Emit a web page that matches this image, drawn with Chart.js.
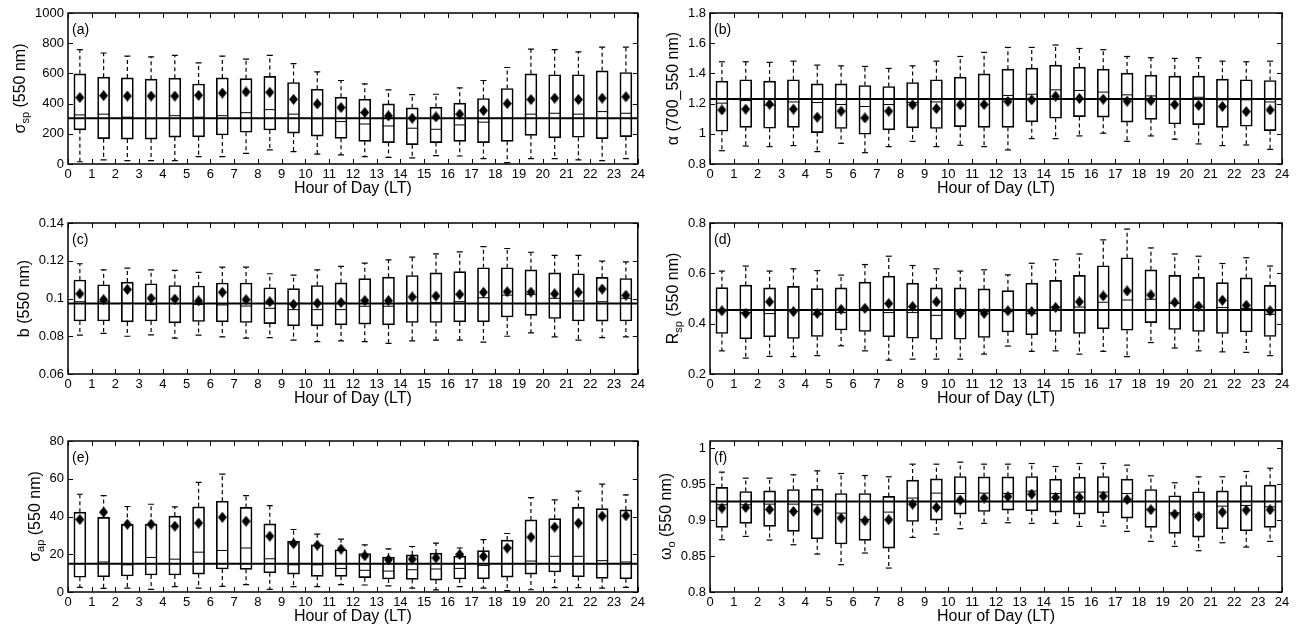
<!DOCTYPE html>
<html lang="en">
<head>
<meta charset="UTF-8" />
<title>Diurnal box plots</title>
<script src="https://cdn.jsdelivr.net/npm/chart.js@4.4.0/dist/chart.umd.min.js"></script>
<style>
  body { margin: 0; background: #fff; width: 1297px; height: 631px; overflow: hidden; position: relative; }
  .panel { position: absolute; }
</style>
</head>
<body>
<div class="panel" style="left:0;top:0;width:648px;height:210px"><canvas id="pa"></canvas></div>
<div class="panel" style="left:648px;top:0;width:649px;height:210px"><canvas id="pb"></canvas></div>
<div class="panel" style="left:0;top:210px;width:648px;height:210px"><canvas id="pc"></canvas></div>
<div class="panel" style="left:648px;top:210px;width:649px;height:210px"><canvas id="pd"></canvas></div>
<div class="panel" style="left:0;top:421px;width:648px;height:210px"><canvas id="pe"></canvas></div>
<div class="panel" style="left:648px;top:421px;width:649px;height:210px"><canvas id="pf"></canvas></div>

<script>
  // hour bins (box centres)
  const hours = [0.5,1.5,2.5,3.5,4.5,5.5,6.5,7.5,8.5,9.5,10.5,11.5,12.5,13.5,14.5,15.5,16.5,17.5,18.5,19.5,20.5,21.5,22.5,23.5];
  const xTickLabels = [0,1,2,3,4,5,6,7,8,9,10,11,12,13,14,15,16,17,18,19,20,21,22,23,24];

  // (a) sigma_sp
  const a_hi  = [757,735,715,710,720,670,715,695,720,665,610,553,531,491,460,462,504,553,639,761,757,743,774,774];
  const a_q3  = [597,575,570,562,568,530,570,565,580,540,495,442,429,398,372,376,403,434,500,597,591,591,617,606];
  const a_med = [325,330,310,300,320,310,320,340,360,330,300,281,265,252,237,230,259,277,303,330,336,330,347,336];
  const a_q1  = [226,168,165,165,178,180,192,210,225,205,185,170,150,142,128,142,150,142,150,190,173,177,168,181];
  const a_lo  = [15,27,22,22,22,49,49,71,93,82,66,60,49,44,40,55,53,35,9,35,35,27,22,35];
  const a_mean= [440,453,450,450,450,455,470,478,475,428,398,374,341,319,303,312,330,354,400,427,436,427,436,445];
  const a_ref = 303;
  const a_ticks = [0,200,400,600,800,1000];

  // (b) alpha
  const b_hi  = [1.477,1.477,1.473,1.481,1.455,1.450,1.446,1.433,1.450,1.481,1.512,1.539,1.572,1.572,1.588,1.565,1.557,1.512,1.504,1.499,1.504,1.481,1.477,1.481];
  const b_q3  = [1.349,1.358,1.349,1.358,1.331,1.331,1.320,1.313,1.340,1.358,1.375,1.397,1.428,1.435,1.455,1.442,1.428,1.402,1.388,1.382,1.382,1.362,1.358,1.353];
  const b_med = [1.203,1.220,1.189,1.211,1.207,1.194,1.181,1.194,1.207,1.211,1.234,1.234,1.254,1.262,1.291,1.287,1.276,1.258,1.251,1.234,1.242,1.225,1.225,1.211];
  const b_q1  = [1.017,1.043,1.037,1.043,1.008,1.035,0.997,1.026,1.039,1.035,1.048,1.043,1.043,1.079,1.103,1.114,1.110,1.077,1.096,1.065,1.061,1.043,1.050,1.021];
  const b_lo  = [0.888,0.919,0.915,0.922,0.882,0.937,0.875,0.915,0.950,0.915,0.924,0.915,0.893,0.968,0.968,0.986,1.004,0.950,0.986,0.964,0.933,0.922,0.926,0.897];
  const b_mean= [1.158,1.163,1.196,1.163,1.110,1.150,1.105,1.150,1.192,1.167,1.192,1.194,1.214,1.225,1.249,1.234,1.229,1.216,1.220,1.194,1.189,1.181,1.147,1.158];
  const b_ref = 1.231;
  const b_ticks = [0.8,1,1.2,1.4,1.6,1.8];

  // (c) b
  const c_hi  = [0.1184,0.1152,0.1161,0.1152,0.1149,0.1138,0.1166,0.1166,0.1131,0.1124,0.1152,0.1170,0.1187,0.1205,0.1219,0.1236,0.1247,0.1275,0.1265,0.1245,0.1229,0.1229,0.1198,0.1194];
  const c_q3  = [0.1098,0.1073,0.1087,0.1078,0.1069,0.1066,0.1082,0.1082,0.1057,0.1052,0.1069,0.1083,0.1105,0.1113,0.1122,0.1136,0.1142,0.1163,0.1163,0.1152,0.1136,0.1131,0.1112,0.1106];
  const c_med = [0.0983,0.0983,0.0975,0.0969,0.0973,0.0969,0.0966,0.0960,0.0948,0.0941,0.0941,0.0941,0.0959,0.0959,0.0975,0.0978,0.0983,0.1004,0.1018,0.1022,0.1001,0.0987,0.0983,0.1001];
  const c_q1  = [0.0881,0.0881,0.0876,0.0881,0.0871,0.0878,0.0876,0.0873,0.0867,0.0855,0.0855,0.0860,0.0864,0.0860,0.0873,0.0873,0.0876,0.0876,0.0902,0.0911,0.0894,0.0881,0.0880,0.0881];
  const c_lo  = [0.0806,0.0815,0.0800,0.0807,0.0790,0.0806,0.0797,0.0790,0.0793,0.0779,0.0772,0.0776,0.0772,0.0762,0.0776,0.0779,0.0779,0.0769,0.0800,0.0818,0.0797,0.0779,0.0793,0.0797];
  const c_mean= [0.1025,0.0994,0.1048,0.1001,0.0997,0.0987,0.1033,0.0994,0.0983,0.0969,0.0975,0.0979,0.0989,0.0989,0.1008,0.1013,0.1022,0.1033,0.1036,0.1034,0.1025,0.1033,0.1050,0.1017];
  const c_ref = 0.0973;
  const c_ticks = [0.06,0.08,0.1,0.12,0.14];

  // (d) R_sp
  const d_hi  = [0.609,0.629,0.609,0.618,0.611,0.593,0.635,0.668,0.631,0.618,0.609,0.614,0.594,0.640,0.654,0.677,0.733,0.776,0.701,0.677,0.668,0.639,0.662,0.629];
  const d_q3  = [0.543,0.553,0.542,0.548,0.539,0.542,0.565,0.589,0.561,0.542,0.542,0.538,0.531,0.561,0.572,0.592,0.630,0.662,0.614,0.592,0.584,0.563,0.582,0.552];
  const d_med = [0.451,0.444,0.440,0.453,0.437,0.444,0.453,0.444,0.444,0.433,0.448,0.448,0.448,0.440,0.466,0.466,0.485,0.494,0.497,0.480,0.466,0.464,0.460,0.437];
  const d_q1  = [0.361,0.340,0.348,0.341,0.349,0.375,0.369,0.348,0.342,0.338,0.338,0.345,0.367,0.356,0.369,0.361,0.379,0.374,0.404,0.377,0.369,0.361,0.367,0.349];
  const d_lo  = [0.292,0.263,0.270,0.269,0.273,0.312,0.292,0.255,0.259,0.259,0.259,0.279,0.311,0.290,0.292,0.279,0.290,0.269,0.325,0.303,0.292,0.288,0.286,0.273];
  const d_mean= [0.451,0.441,0.487,0.448,0.441,0.457,0.461,0.480,0.468,0.487,0.441,0.441,0.451,0.448,0.464,0.487,0.510,0.530,0.514,0.485,0.470,0.493,0.473,0.451];
  const d_ref = 0.4545;
  const d_ticks = [0.2,0.4,0.6,0.8];

  // (e) sigma_ap
  const e_hi  = [51.8,51.1,45.3,46.5,45.1,58.1,62.4,51.1,45.8,33.1,30.7,28.0,25.0,22.9,24.1,25.9,23.3,27.8,31.0,50.0,48.8,53.4,57.1,51.5];
  const e_q3  = [42.3,39.5,35.8,35.9,40.2,45.1,48.1,44.8,36.1,26.8,25.0,22.4,20.4,18.5,19.7,20.6,19.0,21.9,27.5,38.2,38.9,44.8,44.2,43.5];
  const e_med = [15.0,15.9,14.4,18.3,17.4,21.1,22.0,23.3,17.6,14.4,14.4,12.5,11.5,11.1,11.8,12.2,12.5,14.1,15.0,16.4,18.9,18.9,16.6,15.9];
  const e_q1  = [7.8,8.1,8.5,9.0,9.0,9.5,12.2,12.0,10.2,9.5,8.3,8.3,7.6,6.9,6.7,6.3,6.9,7.0,7.9,9.5,10.6,8.1,7.2,7.0];
  const e_lo  = [2.5,1.9,2.1,1.4,2.8,2.1,3.0,3.9,1.4,2.8,2.8,3.9,3.7,3.2,2.1,1.1,2.8,2.1,0.7,1.2,2.3,2.3,2.1,2.5];
  const e_mean= [38.4,42.3,35.9,35.9,34.9,36.5,39.6,37.5,29.6,25.6,24.8,22.7,19.2,17.1,17.4,18.1,19.9,18.9,23.3,29.1,34.4,36.5,40.2,40.4];
  const e_ref = 15;
  const e_ticks = [0,20,40,60,80];

  // (f) omega_o
  const f_hi  = [0.9667,0.9583,0.9583,0.9630,0.9685,0.9648,0.9620,0.9602,0.9778,0.9778,0.9806,0.9778,0.9778,0.9787,0.9745,0.9787,0.9787,0.9764,0.9616,0.9519,0.9602,0.9602,0.9676,0.9722];
  const f_q3  = [0.9454,0.9398,0.9407,0.9426,0.9431,0.9370,0.9370,0.9329,0.9556,0.9574,0.9606,0.9602,0.9602,0.9606,0.9569,0.9597,0.9606,0.9569,0.9426,0.9338,0.9394,0.9407,0.9481,0.9486];
  const f_med = [0.9213,0.9213,0.9222,0.9222,0.9213,0.9097,0.9009,0.9111,0.9306,0.9375,0.9370,0.9375,0.9370,0.9403,0.9370,0.9389,0.9389,0.9370,0.9148,0.9102,0.9083,0.9194,0.9204,0.9185];
  const f_q1  = [0.8898,0.8954,0.8912,0.8843,0.8741,0.8667,0.8718,0.8611,0.8981,0.9000,0.9083,0.9120,0.9139,0.9130,0.9111,0.9083,0.9102,0.9028,0.8898,0.8815,0.8764,0.8880,0.8852,0.8898];
  const f_lo  = [0.8727,0.8773,0.8722,0.8657,0.8528,0.8380,0.8542,0.8333,0.8759,0.8806,0.8880,0.8954,0.8963,0.8954,0.8954,0.8912,0.8917,0.8843,0.8704,0.8634,0.8574,0.8685,0.8625,0.8704];
  const f_mean= [0.9167,0.9176,0.9148,0.9120,0.9130,0.9028,0.8991,0.9005,0.9222,0.9176,0.9278,0.9306,0.9329,0.9361,0.9315,0.9315,0.9333,0.9287,0.9144,0.9083,0.9051,0.9111,0.9139,0.9144];
  const f_ref = 0.9259;
  const f_ticks = [0.8,0.85,0.9,0.95,1];

  const FONT = '"Liberation Sans", Arial, Helvetica, sans-serif';

  // filled diamond used for the means
  function diamondMark() {
    const c = document.createElement('canvas');
    c.width = 9; c.height = 11;
    const g = c.getContext('2d');
    g.fillStyle = '#000';
    g.beginPath();
    g.moveTo(4.5, 0); g.lineTo(9, 5.5); g.lineTo(4.5, 11); g.lineTo(0, 5.5);
    g.closePath();
    g.fill();
    return c;
  }
  const diamond = diamondMark();

  // frame, inward ticks, panel letter and y title (with subscript)
  const framePlugin = {
    id: 'frame',
    afterDatasetsDraw(chart, args, o) {
      const { ctx, chartArea: a, scales: { x, y } } = chart;
      ctx.save();
      ctx.strokeStyle = '#000';
      ctx.lineWidth = 1;
      ctx.beginPath();
      x.ticks.forEach(t => {
        const px = Math.round(x.getPixelForValue(t.value)) + 0.5;
        ctx.moveTo(px, a.bottom); ctx.lineTo(px, a.bottom - 5);
        ctx.moveTo(px, a.top); ctx.lineTo(px, a.top + 5);
      });
      y.ticks.forEach(t => {
        const py = Math.round(y.getPixelForValue(t.value)) + 0.5;
        ctx.moveTo(a.left, py); ctx.lineTo(a.left + 5, py);
        ctx.moveTo(a.right, py); ctx.lineTo(a.right - 5, py);
      });
      ctx.stroke();
      ctx.lineWidth = 1.5;
      ctx.strokeRect(a.left, a.top, a.right - a.left, a.bottom - a.top);

      ctx.fillStyle = '#000';
      ctx.font = '14px ' + FONT;
      ctx.textAlign = 'left';
      ctx.textBaseline = 'top';
      ctx.fillText(o.letter, a.left + 4, a.top + 10);

      // y title placed left of the widest tick label
      ctx.font = '13px ' + FONT;
      const w = Math.max(...y.ticks.map(t => ctx.measureText(t.label).width));
      const bx = a.left - 4 - w - 10;
      const widths = o.title.map(p => {
        ctx.font = (p.sub ? '11px ' : '16px ') + FONT;
        return ctx.measureText(p.t).width;
      });
      const total = widths.reduce((s, v) => s + v, 0);
      ctx.translate(bx, (a.top + a.bottom) / 2);
      ctx.rotate(-Math.PI / 2);
      ctx.textBaseline = 'alphabetic';
      let lx = -total / 2;
      o.title.forEach((p, i) => {
        ctx.font = (p.sub ? '11px ' : '16px ') + FONT;
        ctx.fillText(p.t, lx, p.sub ? 4 : 0);
        lx += widths[i];
      });
      ctx.restore();
    }
  };

  function makePanel(id, p) {
    const pts = arr => hours.map((h, i) => ({ x: h, y: arr[i] }));
    const whisk = [];
    const caps = [];
    hours.forEach((h, i) => {
      whisk.push({ x: h, y: p.q3[i] }, { x: h, y: p.hi[i] }, { x: h, y: null },
                 { x: h, y: p.q1[i] }, { x: h, y: p.lo[i] }, { x: h, y: null });
      caps.push({ x: h, y: p.hi[i] }, { x: h, y: p.lo[i] });
    });

    new Chart(document.getElementById(id), {
      type: 'bar',
      data: {
        datasets: [
          { type: 'scatter', data: pts(p.mean), pointStyle: diamond, pointRadius: 5, order: 0 },
          { type: 'line', data: [{ x: 0, y: p.ref }, { x: 24, y: p.ref }], borderColor: '#000',
            borderWidth: 2, pointRadius: 0, order: 1 },
          { type: 'scatter', data: pts(p.med), pointStyle: 'line', pointRadius: 6,
            borderColor: '#000', borderWidth: 1, order: 2 },
          { type: 'bar', data: hours.map((h, i) => ({ x: h, y: [p.q1[i], p.q3[i]] })),
            borderColor: '#000', borderWidth: 1, backgroundColor: 'rgba(0,0,0,0)',
            borderSkipped: false, barThickness: 12, order: 3 },
          { type: 'line', data: whisk, borderColor: '#000', borderWidth: 1.2, borderDash: [4, 3],
            pointRadius: 0, spanGaps: false, order: 4 },
          { type: 'scatter', data: caps, pointStyle: 'line', pointRadius: 3,
            borderColor: '#000', borderWidth: 1.2, order: 4 }
        ]
      },
      options: {
        responsive: true,
        maintainAspectRatio: false,
        animation: false,
        events: [],
        layout: { padding: { top: p.padTop, bottom: p.padBottom, left: 0, right: p.padRight } },
        plugins: {
          legend: { display: false },
          tooltip: { enabled: false },
          frame: { letter: p.letter, title: p.title }
        },
        scales: {
          x: {
            type: 'linear', min: 0, max: 24, offset: false,
            grid: { display: false, drawTicks: false }, border: { display: false },
            afterBuildTicks: s => { s.ticks = xTickLabels.map(v => ({ value: v })); },
            ticks: { autoSkip: false, maxRotation: 0, padding: 3, color: '#000', font: { size: 13, family: FONT } },
            title: { display: true, text: 'Hour of Day (LT)', color: '#000',
                     font: { size: 16, family: FONT }, padding: { top: 0, bottom: 2 } },
            afterFit: s => { s.height = 36; }
          },
          y: {
            type: 'linear', min: p.min, max: p.max,
            grid: { display: false, drawTicks: false }, border: { display: false },
            afterBuildTicks: s => { s.ticks = p.ticks.map(v => ({ value: v })); },
            ticks: { padding: 4, color: '#000', font: { size: 13, family: FONT },
                     callback: v => String(+Number(v).toFixed(4)) },
            afterFit: s => { s.width = p.yWidth; }
          }
        }
      },
      plugins: [framePlugin]
    });
  }

  const LEFT = { yWidth: 68, padRight: 9 };
  const RIGHT = { yWidth: 62, padRight: 15 };

  makePanel('pa', { ...LEFT, padTop: 13, padBottom: 10, min: 0, max: 1000, ticks: a_ticks,
    hi: a_hi, q3: a_q3, med: a_med, q1: a_q1, lo: a_lo, mean: a_mean, ref: a_ref, letter: '(a)',
    title: [{ t: 'σ' }, { t: 'sp', sub: true }, { t: ' (550 nm)' }] });
  makePanel('pb', { ...RIGHT, padTop: 13, padBottom: 10, min: 0.8, max: 1.8, ticks: b_ticks,
    hi: b_hi, q3: b_q3, med: b_med, q1: b_q1, lo: b_lo, mean: b_mean, ref: b_ref, letter: '(b)',
    title: [{ t: 'α (700_550 nm)' }] });
  makePanel('pc', { ...LEFT, padTop: 13, padBottom: 10, min: 0.06, max: 0.14, ticks: c_ticks,
    hi: c_hi, q3: c_q3, med: c_med, q1: c_q1, lo: c_lo, mean: c_mean, ref: c_ref, letter: '(c)',
    title: [{ t: 'b (550 nm)' }] });
  makePanel('pd', { ...RIGHT, padTop: 13, padBottom: 10, min: 0.2, max: 0.8, ticks: d_ticks,
    hi: d_hi, q3: d_q3, med: d_med, q1: d_q1, lo: d_lo, mean: d_mean, ref: d_ref, letter: '(d)',
    title: [{ t: 'R' }, { t: 'sp', sub: true }, { t: ' (550 nm)' }] });
  makePanel('pe', { ...LEFT, padTop: 20, padBottom: 3, min: 0, max: 80, ticks: e_ticks,
    hi: e_hi, q3: e_q3, med: e_med, q1: e_q1, lo: e_lo, mean: e_mean, ref: e_ref, letter: '(e)',
    title: [{ t: 'σ' }, { t: 'ap', sub: true }, { t: ' (550 nm)' }] });
  makePanel('pf', { ...RIGHT, padTop: 20, padBottom: 3, min: 0.8, max: 1.01, ticks: f_ticks,
    hi: f_hi, q3: f_q3, med: f_med, q1: f_q1, lo: f_lo, mean: f_mean, ref: f_ref, letter: '(f)',
    title: [{ t: 'ω' }, { t: 'o', sub: true }, { t: ' (550 nm)' }] });
</script>
</body>
</html>
